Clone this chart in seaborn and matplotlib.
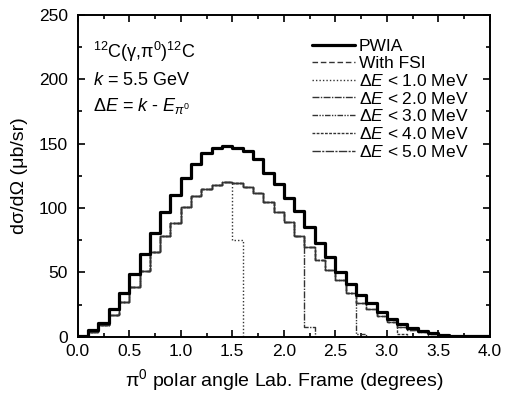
import numpy as np
import seaborn as sns
import matplotlib.pyplot as plt

# 40 angular bins of 0.1 degree between 0 and 4 degrees
n_bins = 40
angle_range = (0.0, 4.0)
centers = np.linspace(0.05, 3.95, n_bins)

# d sigma / d Omega per bin
pwia = [0.5, 5, 11, 21.5, 34, 49, 64, 81, 97, 110,
        123, 134, 143, 147, 148, 147, 144, 138, 127, 119,
        108, 98, 85, 73, 62, 50, 41, 32.6, 26, 19.5,
        14, 10, 6.7, 4.6, 2.8, 1.6, 1.0, 0.8, 0.5, 0.3]
fsi = [0.3, 3.5, 9.5, 17.3, 27.4, 39, 51.5, 65.5, 78.5, 88.3,
       100.5, 109, 115, 118, 120, 119.5, 116, 112, 104.5, 97,
       89, 78, 69.5, 60, 52, 44, 34, 26.6, 21.5, 15.8,
       11.9, 8, 5.4, 3.6, 2, 1.2, 0.8, 0.5, 0.3, 0.2]

# energy-loss cuts: last (partially filled) bin and its value
cut_labels = ["1.0", "2.0", "3.0", "4.0", "5.0"]
cut_bin = [15, 22, 27, 31, 34]
cut_value = [75, 8, 2.5, 2, 1]
cut_dashes = [(1, 1.5), (5, 1, 1, 1), (4, 1, 1, 1, 1, 1), (2, 1), (6, 1, 1.5, 1)]

sns.set_style("ticks")
plt.rcParams['font.family'] = ['Liberation Sans', 'DejaVu Sans']
plt.rcParams['mathtext.fontset'] = 'custom'
plt.rcParams['mathtext.rm'] = 'Liberation Sans'
plt.rcParams['mathtext.it'] = 'Liberation Sans:italic'
for key in ['text.color', 'axes.labelcolor', 'xtick.color', 'ytick.color', 'axes.edgecolor']:
    plt.rcParams[key] = 'black'

fig = plt.figure(figsize=(5.05, 4.01), dpi=100)
ax = fig.add_axes([0.154, 0.160, 0.816, 0.803])

sns.histplot(x=centers, weights=pwia, bins=n_bins, binrange=angle_range, element="step", fill=False,
             color="black", linewidth=2.3, label="PWIA", ax=ax, zorder=5)
sns.histplot(x=centers, weights=fsi, bins=n_bins, binrange=angle_range, element="step", fill=False,
             color="#333333", linewidth=1.0, dashes=(4, 2), label="With FSI", ax=ax)
for lab, kb, val, ds in zip(cut_labels, cut_bin, cut_value, cut_dashes):
    cut = list(fsi[:kb]) + [val] + [0] * (len(fsi) - kb - 1)
    sns.histplot(x=centers, weights=cut, bins=n_bins, binrange=angle_range, element="step", fill=False,
                 color="#333333", linewidth=1.0, dashes=ds,
                 label=r"$\Delta E$ < " + lab + " MeV", ax=ax)

ax.set_xlim(0, 4)
ax.set_ylim(0, 250)
ax.set_xticks(np.arange(0, 4.01, 0.5))
ax.set_xticks(np.arange(0, 4.01, 0.25), minor=True)
ax.set_yticks(np.arange(0, 251, 50))
ax.set_yticks(np.arange(0, 251, 25), minor=True)
ax.xaxis.set_major_formatter(plt.FormatStrFormatter('%.1f'))
ax.tick_params(which='both', direction='in', top=True, right=True, labelsize=12.5, width=1.2)
ax.tick_params(which='major', length=5)
ax.tick_params(which='minor', length=3)
ax.tick_params(axis='y', pad=7)
ax.tick_params(axis='x', pad=5)
for s in ax.spines.values():
    s.set_linewidth(1.4)

ax.set_xlabel("π$^0$ polar angle Lab. Frame (degrees)", fontsize=14, labelpad=6)
ax.set_ylabel("dσ/dΩ (μb/sr)", fontsize=14, labelpad=8)

ax.text(0.036, 0.866, "$^{12}$C(γ,π$^0$)$^{12}$C", transform=ax.transAxes, fontsize=13, va='baseline')
ax.text(0.036, 0.783, "$k$ = 5.5 GeV", transform=ax.transAxes, fontsize=13, va='baseline')
ax.text(0.036, 0.702, r"$\Delta E$ = $k$ - $E_{\pi^0}$", transform=ax.transAxes, fontsize=13, va='baseline')

ax.legend(loc='upper left', bbox_to_anchor=(0.568, 0.925), frameon=False, fontsize=12.5,
          handlelength=2.5, handletextpad=0.2, labelspacing=0.1, borderaxespad=0, borderpad=0)

fig.savefig("out.png", dpi=100)
